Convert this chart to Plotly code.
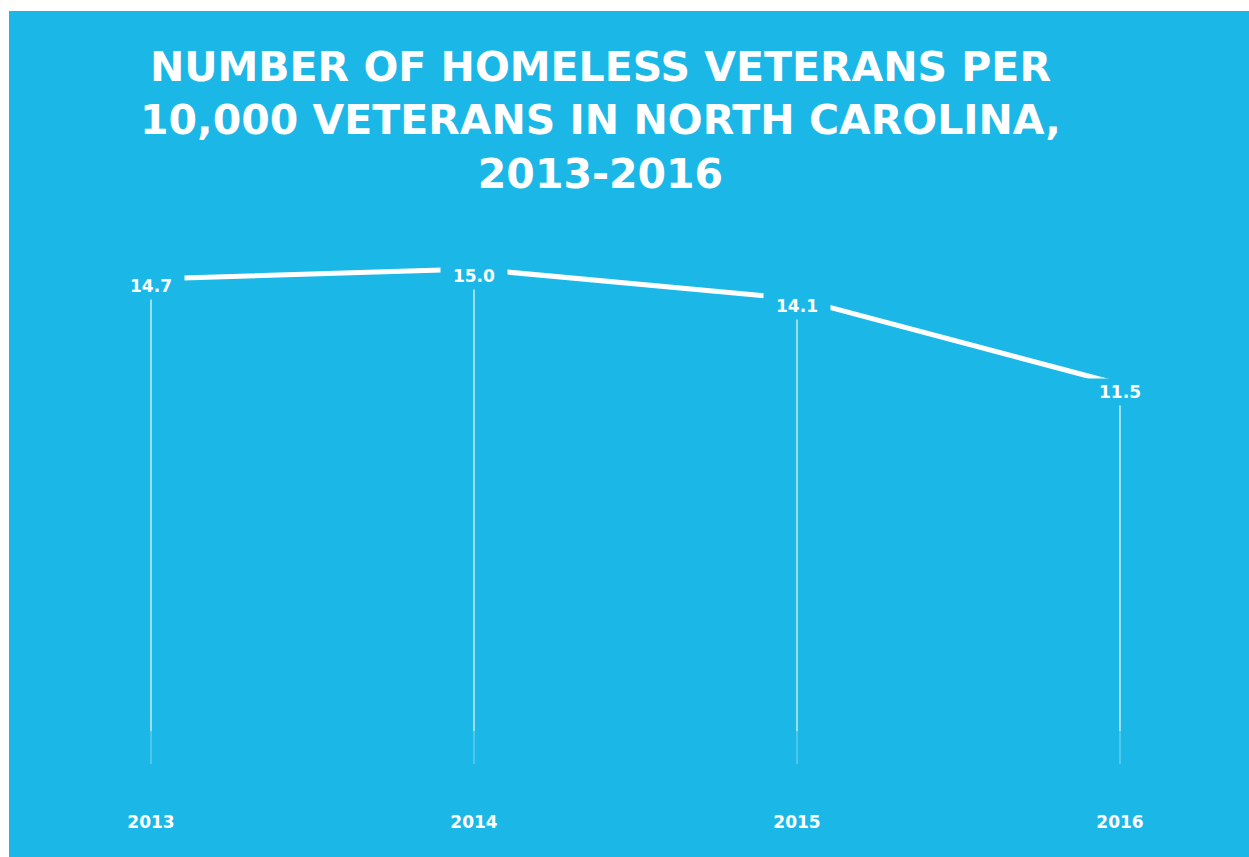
import plotly.graph_objects as go

years = [2013, 2014, 2015, 2016]
values = [14.7, 15.0, 14.1, 11.5]
year_labels = ["2013", "2014", "2015", "2016"]
title_lines = ["NUMBER OF HOMELESS VETERANS PER", "10,000 VETERANS IN NORTH CAROLINA,", "2013-2016"]

BLUE = "#1bb8e7"
FONT = "DejaVu Sans"
W, H = 1249, 857
ML, MR, MT, MB = 0, 0, 0, 50
PH = H - MT - MB

fig = go.Figure()

# vertical drop lines (fading at the bottom)
for yr, v in zip(years, values):
    fig.add_trace(go.Scatter(x=[yr, yr], y=[v, 1.0], mode="lines",
                             line=dict(color="rgba(255,255,255,0.75)", width=1.5),
                             hoverinfo="skip", showlegend=False))
    fig.add_trace(go.Scatter(x=[yr, yr], y=[1.0, 0.0], mode="lines",
                             line=dict(color="rgba(255,255,255,0.3)", width=1.5),
                             hoverinfo="skip", showlegend=False))

# main line
fig.add_trace(go.Scatter(x=years, y=values, mode="lines",
                         line=dict(color="white", width=5),
                         hoverinfo="skip", showlegend=False))

# value labels with blue boxes hiding the line
for yr, v in zip(years, values):
    fig.add_annotation(x=yr, y=v, xref="x", yref="y", text=f"<b>{v:.1f}</b>",
                       showarrow=False, yshift=-7, width=64, height=24,
                       bgcolor=BLUE, font=dict(family=FONT, size=17, color="white"))

# title
fig.add_annotation(x=600 / W, y=1 - 121 / PH, xref="paper", yref="paper",
                   text="<b>" + "<br>".join(title_lines) + "</b>",
                   showarrow=False, xanchor="center", yanchor="middle", align="center",
                   font=dict(family=FONT, size=41, color="white"))

# white border at top and left
fig.add_shape(type="rect", xref="paper", yref="paper", x0=-0.01, x1=1.01,
              y0=1 - 11 / PH, y1=1.02, fillcolor="white", line=dict(width=0), layer="above")
fig.add_shape(type="rect", xref="paper", yref="paper", x0=-0.01, x1=9 / W,
              y0=-MB / PH - 0.02, y1=1.02, fillcolor="white", line=dict(width=0), layer="above")

px_per_year = 323.0
x0 = 2013 - 151 / px_per_year
x1 = x0 + W / px_per_year
px_per_unit = 33.0
zero_px = 764
y0 = -(PH - zero_px) / px_per_unit
y1 = zero_px / px_per_unit

fig.update_layout(
    width=W, height=H,
    margin=dict(l=ML, r=MR, t=MT, b=MB, pad=0),
    paper_bgcolor=BLUE, plot_bgcolor=BLUE,
    xaxis=dict(range=[x0, x1], tickvals=years, ticktext=[f"<b>{t}</b>" for t in year_labels],
               showgrid=False, zeroline=False, showline=False, ticks="",
               ticklabelstandoff=3,
               tickfont=dict(family=FONT, size=17, color="white"), fixedrange=True),
    yaxis=dict(range=[y0, y1], visible=False, showgrid=False, zeroline=False, fixedrange=True),
    showlegend=False,
)

fig.write_html("out.html", config={"displayModeBar": False})
